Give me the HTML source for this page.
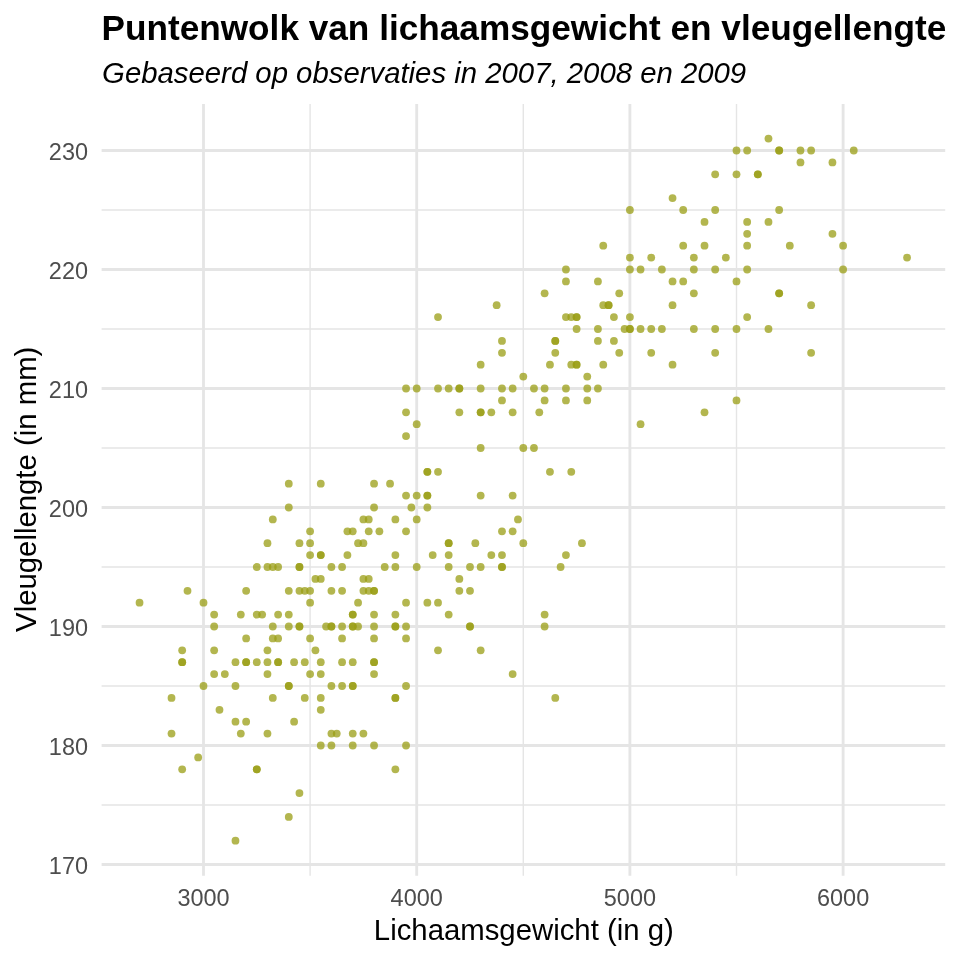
<!DOCTYPE html>
<html lang="nl"><head><meta charset="utf-8"><title>Puntenwolk</title>
<style>html,body{margin:0;padding:0;background:#fff}svg{display:block;will-change:transform}text{font-family:"Liberation Sans",Arial,Helvetica,sans-serif}</style></head><body>
<svg width="960" height="960" viewBox="0 0 960 960">
<rect width="960" height="960" fill="#fff"/>
<g stroke="#E5E5E5" stroke-width="1.42" fill="none">
<line x1="101.6" x2="945.20" y1="805.00" y2="805.00"/>
<line x1="101.6" x2="945.20" y1="686.00" y2="686.00"/>
<line x1="101.6" x2="945.20" y1="567.00" y2="567.00"/>
<line x1="101.6" x2="945.20" y1="448.00" y2="448.00"/>
<line x1="101.6" x2="945.20" y1="329.00" y2="329.00"/>
<line x1="101.6" x2="945.20" y1="210.00" y2="210.00"/>
<line y1="103.9" y2="875.8" x1="310.10" x2="310.10"/>
<line y1="103.9" y2="875.8" x1="523.30" x2="523.30"/>
<line y1="103.9" y2="875.8" x1="736.50" x2="736.50"/>
</g>
<g stroke="#E5E5E5" stroke-width="2.85" fill="none">
<line x1="101.6" x2="945.20" y1="864.50" y2="864.50"/>
<line x1="101.6" x2="945.20" y1="745.50" y2="745.50"/>
<line x1="101.6" x2="945.20" y1="626.50" y2="626.50"/>
<line x1="101.6" x2="945.20" y1="507.50" y2="507.50"/>
<line x1="101.6" x2="945.20" y1="388.50" y2="388.50"/>
<line x1="101.6" x2="945.20" y1="269.50" y2="269.50"/>
<line x1="101.6" x2="945.20" y1="150.50" y2="150.50"/>
<line y1="103.9" y2="875.8" x1="203.50" x2="203.50"/>
<line y1="103.9" y2="875.8" x1="416.70" x2="416.70"/>
<line y1="103.9" y2="875.8" x1="629.90" x2="629.90"/>
<line y1="103.9" y2="875.8" x1="843.10" x2="843.10"/>
</g>
<g fill="#999D14" fill-opacity="0.75">
<circle cx="235.48" cy="840.70" r="3.9"/>
<circle cx="288.78" cy="816.90" r="3.9"/>
<circle cx="299.44" cy="793.10" r="3.9"/>
<circle cx="182.18" cy="769.30" r="3.9"/>
<circle cx="256.80" cy="769.30" r="3.9"/>
<circle cx="256.80" cy="769.30" r="3.9"/>
<circle cx="395.38" cy="769.30" r="3.9"/>
<circle cx="198.17" cy="757.40" r="3.9"/>
<circle cx="320.76" cy="745.50" r="3.9"/>
<circle cx="331.42" cy="745.50" r="3.9"/>
<circle cx="352.74" cy="745.50" r="3.9"/>
<circle cx="374.06" cy="745.50" r="3.9"/>
<circle cx="406.04" cy="745.50" r="3.9"/>
<circle cx="171.52" cy="733.60" r="3.9"/>
<circle cx="240.81" cy="733.60" r="3.9"/>
<circle cx="267.46" cy="733.60" r="3.9"/>
<circle cx="331.42" cy="733.60" r="3.9"/>
<circle cx="336.75" cy="733.60" r="3.9"/>
<circle cx="352.74" cy="733.60" r="3.9"/>
<circle cx="363.40" cy="733.60" r="3.9"/>
<circle cx="235.48" cy="721.70" r="3.9"/>
<circle cx="246.14" cy="721.70" r="3.9"/>
<circle cx="294.11" cy="721.70" r="3.9"/>
<circle cx="219.49" cy="709.80" r="3.9"/>
<circle cx="320.76" cy="709.80" r="3.9"/>
<circle cx="171.52" cy="697.90" r="3.9"/>
<circle cx="272.79" cy="697.90" r="3.9"/>
<circle cx="304.77" cy="697.90" r="3.9"/>
<circle cx="320.76" cy="697.90" r="3.9"/>
<circle cx="395.38" cy="697.90" r="3.9"/>
<circle cx="395.38" cy="697.90" r="3.9"/>
<circle cx="555.28" cy="697.90" r="3.9"/>
<circle cx="203.50" cy="686.00" r="3.9"/>
<circle cx="235.48" cy="686.00" r="3.9"/>
<circle cx="288.78" cy="686.00" r="3.9"/>
<circle cx="288.78" cy="686.00" r="3.9"/>
<circle cx="331.42" cy="686.00" r="3.9"/>
<circle cx="342.08" cy="686.00" r="3.9"/>
<circle cx="352.74" cy="686.00" r="3.9"/>
<circle cx="352.74" cy="686.00" r="3.9"/>
<circle cx="406.04" cy="686.00" r="3.9"/>
<circle cx="214.16" cy="674.10" r="3.9"/>
<circle cx="224.82" cy="674.10" r="3.9"/>
<circle cx="267.46" cy="674.10" r="3.9"/>
<circle cx="310.10" cy="674.10" r="3.9"/>
<circle cx="320.76" cy="674.10" r="3.9"/>
<circle cx="374.06" cy="674.10" r="3.9"/>
<circle cx="512.64" cy="674.10" r="3.9"/>
<circle cx="182.18" cy="662.20" r="3.9"/>
<circle cx="182.18" cy="662.20" r="3.9"/>
<circle cx="235.48" cy="662.20" r="3.9"/>
<circle cx="246.14" cy="662.20" r="3.9"/>
<circle cx="246.14" cy="662.20" r="3.9"/>
<circle cx="256.80" cy="662.20" r="3.9"/>
<circle cx="267.46" cy="662.20" r="3.9"/>
<circle cx="278.12" cy="662.20" r="3.9"/>
<circle cx="278.12" cy="662.20" r="3.9"/>
<circle cx="294.11" cy="662.20" r="3.9"/>
<circle cx="304.77" cy="662.20" r="3.9"/>
<circle cx="320.76" cy="662.20" r="3.9"/>
<circle cx="342.08" cy="662.20" r="3.9"/>
<circle cx="352.74" cy="662.20" r="3.9"/>
<circle cx="374.06" cy="662.20" r="3.9"/>
<circle cx="374.06" cy="662.20" r="3.9"/>
<circle cx="182.18" cy="650.30" r="3.9"/>
<circle cx="214.16" cy="650.30" r="3.9"/>
<circle cx="267.46" cy="650.30" r="3.9"/>
<circle cx="315.43" cy="650.30" r="3.9"/>
<circle cx="438.02" cy="650.30" r="3.9"/>
<circle cx="480.66" cy="650.30" r="3.9"/>
<circle cx="246.14" cy="638.40" r="3.9"/>
<circle cx="272.79" cy="638.40" r="3.9"/>
<circle cx="278.12" cy="638.40" r="3.9"/>
<circle cx="310.10" cy="638.40" r="3.9"/>
<circle cx="342.08" cy="638.40" r="3.9"/>
<circle cx="374.06" cy="638.40" r="3.9"/>
<circle cx="406.04" cy="638.40" r="3.9"/>
<circle cx="214.16" cy="626.50" r="3.9"/>
<circle cx="272.79" cy="626.50" r="3.9"/>
<circle cx="288.78" cy="626.50" r="3.9"/>
<circle cx="299.44" cy="626.50" r="3.9"/>
<circle cx="299.44" cy="626.50" r="3.9"/>
<circle cx="326.09" cy="626.50" r="3.9"/>
<circle cx="331.42" cy="626.50" r="3.9"/>
<circle cx="331.42" cy="626.50" r="3.9"/>
<circle cx="342.08" cy="626.50" r="3.9"/>
<circle cx="352.74" cy="626.50" r="3.9"/>
<circle cx="352.74" cy="626.50" r="3.9"/>
<circle cx="358.07" cy="626.50" r="3.9"/>
<circle cx="374.06" cy="626.50" r="3.9"/>
<circle cx="395.38" cy="626.50" r="3.9"/>
<circle cx="395.38" cy="626.50" r="3.9"/>
<circle cx="406.04" cy="626.50" r="3.9"/>
<circle cx="470.00" cy="626.50" r="3.9"/>
<circle cx="470.00" cy="626.50" r="3.9"/>
<circle cx="544.62" cy="626.50" r="3.9"/>
<circle cx="214.16" cy="614.60" r="3.9"/>
<circle cx="240.81" cy="614.60" r="3.9"/>
<circle cx="256.80" cy="614.60" r="3.9"/>
<circle cx="262.13" cy="614.60" r="3.9"/>
<circle cx="278.12" cy="614.60" r="3.9"/>
<circle cx="288.78" cy="614.60" r="3.9"/>
<circle cx="352.74" cy="614.60" r="3.9"/>
<circle cx="352.74" cy="614.60" r="3.9"/>
<circle cx="374.06" cy="614.60" r="3.9"/>
<circle cx="395.38" cy="614.60" r="3.9"/>
<circle cx="448.68" cy="614.60" r="3.9"/>
<circle cx="544.62" cy="614.60" r="3.9"/>
<circle cx="139.54" cy="602.70" r="3.9"/>
<circle cx="203.50" cy="602.70" r="3.9"/>
<circle cx="310.10" cy="602.70" r="3.9"/>
<circle cx="358.07" cy="602.70" r="3.9"/>
<circle cx="406.04" cy="602.70" r="3.9"/>
<circle cx="427.36" cy="602.70" r="3.9"/>
<circle cx="438.02" cy="602.70" r="3.9"/>
<circle cx="187.51" cy="590.80" r="3.9"/>
<circle cx="246.14" cy="590.80" r="3.9"/>
<circle cx="288.78" cy="590.80" r="3.9"/>
<circle cx="299.44" cy="590.80" r="3.9"/>
<circle cx="304.77" cy="590.80" r="3.9"/>
<circle cx="310.10" cy="590.80" r="3.9"/>
<circle cx="331.42" cy="590.80" r="3.9"/>
<circle cx="342.08" cy="590.80" r="3.9"/>
<circle cx="363.40" cy="590.80" r="3.9"/>
<circle cx="368.73" cy="590.80" r="3.9"/>
<circle cx="374.06" cy="590.80" r="3.9"/>
<circle cx="374.06" cy="590.80" r="3.9"/>
<circle cx="459.34" cy="590.80" r="3.9"/>
<circle cx="470.00" cy="590.80" r="3.9"/>
<circle cx="315.43" cy="578.90" r="3.9"/>
<circle cx="320.76" cy="578.90" r="3.9"/>
<circle cx="363.40" cy="578.90" r="3.9"/>
<circle cx="368.73" cy="578.90" r="3.9"/>
<circle cx="459.34" cy="578.90" r="3.9"/>
<circle cx="256.80" cy="567.00" r="3.9"/>
<circle cx="267.46" cy="567.00" r="3.9"/>
<circle cx="272.79" cy="567.00" r="3.9"/>
<circle cx="278.12" cy="567.00" r="3.9"/>
<circle cx="299.44" cy="567.00" r="3.9"/>
<circle cx="299.44" cy="567.00" r="3.9"/>
<circle cx="331.42" cy="567.00" r="3.9"/>
<circle cx="342.08" cy="567.00" r="3.9"/>
<circle cx="384.72" cy="567.00" r="3.9"/>
<circle cx="395.38" cy="567.00" r="3.9"/>
<circle cx="416.70" cy="567.00" r="3.9"/>
<circle cx="448.68" cy="567.00" r="3.9"/>
<circle cx="470.00" cy="567.00" r="3.9"/>
<circle cx="480.66" cy="567.00" r="3.9"/>
<circle cx="501.98" cy="567.00" r="3.9"/>
<circle cx="501.98" cy="567.00" r="3.9"/>
<circle cx="560.61" cy="567.00" r="3.9"/>
<circle cx="310.10" cy="555.10" r="3.9"/>
<circle cx="320.76" cy="555.10" r="3.9"/>
<circle cx="320.76" cy="555.10" r="3.9"/>
<circle cx="347.41" cy="555.10" r="3.9"/>
<circle cx="395.38" cy="555.10" r="3.9"/>
<circle cx="432.69" cy="555.10" r="3.9"/>
<circle cx="448.68" cy="555.10" r="3.9"/>
<circle cx="491.32" cy="555.10" r="3.9"/>
<circle cx="501.98" cy="555.10" r="3.9"/>
<circle cx="565.94" cy="555.10" r="3.9"/>
<circle cx="267.46" cy="543.20" r="3.9"/>
<circle cx="299.44" cy="543.20" r="3.9"/>
<circle cx="310.10" cy="543.20" r="3.9"/>
<circle cx="358.07" cy="543.20" r="3.9"/>
<circle cx="363.40" cy="543.20" r="3.9"/>
<circle cx="448.68" cy="543.20" r="3.9"/>
<circle cx="448.68" cy="543.20" r="3.9"/>
<circle cx="475.33" cy="543.20" r="3.9"/>
<circle cx="523.30" cy="543.20" r="3.9"/>
<circle cx="581.93" cy="543.20" r="3.9"/>
<circle cx="310.10" cy="531.30" r="3.9"/>
<circle cx="347.41" cy="531.30" r="3.9"/>
<circle cx="352.74" cy="531.30" r="3.9"/>
<circle cx="368.73" cy="531.30" r="3.9"/>
<circle cx="379.39" cy="531.30" r="3.9"/>
<circle cx="406.04" cy="531.30" r="3.9"/>
<circle cx="501.98" cy="531.30" r="3.9"/>
<circle cx="512.64" cy="531.30" r="3.9"/>
<circle cx="272.79" cy="519.40" r="3.9"/>
<circle cx="363.40" cy="519.40" r="3.9"/>
<circle cx="368.73" cy="519.40" r="3.9"/>
<circle cx="395.38" cy="519.40" r="3.9"/>
<circle cx="416.70" cy="519.40" r="3.9"/>
<circle cx="517.97" cy="519.40" r="3.9"/>
<circle cx="288.78" cy="507.50" r="3.9"/>
<circle cx="374.06" cy="507.50" r="3.9"/>
<circle cx="411.37" cy="507.50" r="3.9"/>
<circle cx="427.36" cy="507.50" r="3.9"/>
<circle cx="406.04" cy="495.60" r="3.9"/>
<circle cx="416.70" cy="495.60" r="3.9"/>
<circle cx="427.36" cy="495.60" r="3.9"/>
<circle cx="427.36" cy="495.60" r="3.9"/>
<circle cx="480.66" cy="495.60" r="3.9"/>
<circle cx="512.64" cy="495.60" r="3.9"/>
<circle cx="288.78" cy="483.70" r="3.9"/>
<circle cx="320.76" cy="483.70" r="3.9"/>
<circle cx="374.06" cy="483.70" r="3.9"/>
<circle cx="390.05" cy="483.70" r="3.9"/>
<circle cx="427.36" cy="471.80" r="3.9"/>
<circle cx="427.36" cy="471.80" r="3.9"/>
<circle cx="438.02" cy="471.80" r="3.9"/>
<circle cx="549.95" cy="471.80" r="3.9"/>
<circle cx="571.27" cy="471.80" r="3.9"/>
<circle cx="480.66" cy="448.00" r="3.9"/>
<circle cx="523.30" cy="448.00" r="3.9"/>
<circle cx="533.96" cy="448.00" r="3.9"/>
<circle cx="406.04" cy="436.10" r="3.9"/>
<circle cx="416.70" cy="424.20" r="3.9"/>
<circle cx="640.56" cy="424.20" r="3.9"/>
<circle cx="406.04" cy="412.30" r="3.9"/>
<circle cx="459.34" cy="412.30" r="3.9"/>
<circle cx="480.66" cy="412.30" r="3.9"/>
<circle cx="480.66" cy="412.30" r="3.9"/>
<circle cx="491.32" cy="412.30" r="3.9"/>
<circle cx="512.64" cy="412.30" r="3.9"/>
<circle cx="539.29" cy="412.30" r="3.9"/>
<circle cx="704.52" cy="412.30" r="3.9"/>
<circle cx="501.98" cy="400.40" r="3.9"/>
<circle cx="544.62" cy="400.40" r="3.9"/>
<circle cx="565.94" cy="400.40" r="3.9"/>
<circle cx="587.26" cy="400.40" r="3.9"/>
<circle cx="736.50" cy="400.40" r="3.9"/>
<circle cx="406.04" cy="388.50" r="3.9"/>
<circle cx="416.70" cy="388.50" r="3.9"/>
<circle cx="438.02" cy="388.50" r="3.9"/>
<circle cx="448.68" cy="388.50" r="3.9"/>
<circle cx="459.34" cy="388.50" r="3.9"/>
<circle cx="459.34" cy="388.50" r="3.9"/>
<circle cx="480.66" cy="388.50" r="3.9"/>
<circle cx="501.98" cy="388.50" r="3.9"/>
<circle cx="512.64" cy="388.50" r="3.9"/>
<circle cx="533.96" cy="388.50" r="3.9"/>
<circle cx="544.62" cy="388.50" r="3.9"/>
<circle cx="565.94" cy="388.50" r="3.9"/>
<circle cx="587.26" cy="388.50" r="3.9"/>
<circle cx="597.92" cy="388.50" r="3.9"/>
<circle cx="523.30" cy="376.60" r="3.9"/>
<circle cx="587.26" cy="376.60" r="3.9"/>
<circle cx="480.66" cy="364.70" r="3.9"/>
<circle cx="549.95" cy="364.70" r="3.9"/>
<circle cx="571.27" cy="364.70" r="3.9"/>
<circle cx="576.60" cy="364.70" r="3.9"/>
<circle cx="576.60" cy="364.70" r="3.9"/>
<circle cx="603.25" cy="364.70" r="3.9"/>
<circle cx="672.54" cy="364.70" r="3.9"/>
<circle cx="501.98" cy="352.80" r="3.9"/>
<circle cx="555.28" cy="352.80" r="3.9"/>
<circle cx="619.24" cy="352.80" r="3.9"/>
<circle cx="651.22" cy="352.80" r="3.9"/>
<circle cx="715.18" cy="352.80" r="3.9"/>
<circle cx="811.12" cy="352.80" r="3.9"/>
<circle cx="501.98" cy="340.90" r="3.9"/>
<circle cx="555.28" cy="340.90" r="3.9"/>
<circle cx="555.28" cy="340.90" r="3.9"/>
<circle cx="597.92" cy="340.90" r="3.9"/>
<circle cx="613.91" cy="340.90" r="3.9"/>
<circle cx="576.60" cy="329.00" r="3.9"/>
<circle cx="597.92" cy="329.00" r="3.9"/>
<circle cx="624.57" cy="329.00" r="3.9"/>
<circle cx="629.90" cy="329.00" r="3.9"/>
<circle cx="629.90" cy="329.00" r="3.9"/>
<circle cx="640.56" cy="329.00" r="3.9"/>
<circle cx="651.22" cy="329.00" r="3.9"/>
<circle cx="661.88" cy="329.00" r="3.9"/>
<circle cx="693.86" cy="329.00" r="3.9"/>
<circle cx="715.18" cy="329.00" r="3.9"/>
<circle cx="736.50" cy="329.00" r="3.9"/>
<circle cx="768.48" cy="329.00" r="3.9"/>
<circle cx="438.02" cy="317.10" r="3.9"/>
<circle cx="565.94" cy="317.10" r="3.9"/>
<circle cx="571.27" cy="317.10" r="3.9"/>
<circle cx="576.60" cy="317.10" r="3.9"/>
<circle cx="576.60" cy="317.10" r="3.9"/>
<circle cx="613.91" cy="317.10" r="3.9"/>
<circle cx="629.90" cy="317.10" r="3.9"/>
<circle cx="747.16" cy="317.10" r="3.9"/>
<circle cx="496.65" cy="305.20" r="3.9"/>
<circle cx="603.25" cy="305.20" r="3.9"/>
<circle cx="608.58" cy="305.20" r="3.9"/>
<circle cx="608.58" cy="305.20" r="3.9"/>
<circle cx="672.54" cy="305.20" r="3.9"/>
<circle cx="811.12" cy="305.20" r="3.9"/>
<circle cx="544.62" cy="293.30" r="3.9"/>
<circle cx="619.24" cy="293.30" r="3.9"/>
<circle cx="693.86" cy="293.30" r="3.9"/>
<circle cx="779.14" cy="293.30" r="3.9"/>
<circle cx="779.14" cy="293.30" r="3.9"/>
<circle cx="565.94" cy="281.40" r="3.9"/>
<circle cx="597.92" cy="281.40" r="3.9"/>
<circle cx="672.54" cy="281.40" r="3.9"/>
<circle cx="683.20" cy="281.40" r="3.9"/>
<circle cx="736.50" cy="281.40" r="3.9"/>
<circle cx="565.94" cy="269.50" r="3.9"/>
<circle cx="629.90" cy="269.50" r="3.9"/>
<circle cx="640.56" cy="269.50" r="3.9"/>
<circle cx="661.88" cy="269.50" r="3.9"/>
<circle cx="693.86" cy="269.50" r="3.9"/>
<circle cx="715.18" cy="269.50" r="3.9"/>
<circle cx="747.16" cy="269.50" r="3.9"/>
<circle cx="843.10" cy="269.50" r="3.9"/>
<circle cx="629.90" cy="257.60" r="3.9"/>
<circle cx="651.22" cy="257.60" r="3.9"/>
<circle cx="693.86" cy="257.60" r="3.9"/>
<circle cx="725.84" cy="257.60" r="3.9"/>
<circle cx="907.06" cy="257.60" r="3.9"/>
<circle cx="603.25" cy="245.70" r="3.9"/>
<circle cx="683.20" cy="245.70" r="3.9"/>
<circle cx="704.52" cy="245.70" r="3.9"/>
<circle cx="747.16" cy="245.70" r="3.9"/>
<circle cx="789.80" cy="245.70" r="3.9"/>
<circle cx="843.10" cy="245.70" r="3.9"/>
<circle cx="747.16" cy="233.80" r="3.9"/>
<circle cx="832.44" cy="233.80" r="3.9"/>
<circle cx="704.52" cy="221.90" r="3.9"/>
<circle cx="747.16" cy="221.90" r="3.9"/>
<circle cx="768.48" cy="221.90" r="3.9"/>
<circle cx="629.90" cy="210.00" r="3.9"/>
<circle cx="683.20" cy="210.00" r="3.9"/>
<circle cx="715.18" cy="210.00" r="3.9"/>
<circle cx="779.14" cy="210.00" r="3.9"/>
<circle cx="672.54" cy="198.10" r="3.9"/>
<circle cx="715.18" cy="174.30" r="3.9"/>
<circle cx="736.50" cy="174.30" r="3.9"/>
<circle cx="757.82" cy="174.30" r="3.9"/>
<circle cx="757.82" cy="174.30" r="3.9"/>
<circle cx="800.46" cy="162.40" r="3.9"/>
<circle cx="832.44" cy="162.40" r="3.9"/>
<circle cx="736.50" cy="150.50" r="3.9"/>
<circle cx="747.16" cy="150.50" r="3.9"/>
<circle cx="779.14" cy="150.50" r="3.9"/>
<circle cx="779.14" cy="150.50" r="3.9"/>
<circle cx="800.46" cy="150.50" r="3.9"/>
<circle cx="811.12" cy="150.50" r="3.9"/>
<circle cx="853.76" cy="150.50" r="3.9"/>
<circle cx="768.48" cy="138.60" r="3.9"/>
</g>
<g font-size="23.47" fill="#4D4D4D">
<text x="88" y="873.80" text-anchor="end">170</text>
<text x="88" y="754.80" text-anchor="end">180</text>
<text x="88" y="635.80" text-anchor="end">190</text>
<text x="88" y="516.80" text-anchor="end">200</text>
<text x="88" y="397.80" text-anchor="end">210</text>
<text x="88" y="278.80" text-anchor="end">220</text>
<text x="88" y="159.80" text-anchor="end">230</text>
<text x="203.50" y="906" text-anchor="middle">3000</text>
<text x="416.70" y="906" text-anchor="middle">4000</text>
<text x="629.90" y="906" text-anchor="middle">5000</text>
<text x="843.10" y="906" text-anchor="middle">6000</text>
</g>
<text x="523.8" y="940.1" font-size="29.33" text-anchor="middle" fill="#000">Lichaamsgewicht (in g)</text>
<text transform="translate(35.8,489.3) rotate(-90)" font-size="29.33" text-anchor="middle" fill="#000">Vleugellengte (in mm)</text>
<text x="101.5" y="39.8" font-size="35.2" font-weight="bold" fill="#000">Puntenwolk van lichaamsgewicht en vleugellengte</text>
<text x="102.1" y="83.0" font-size="29.33" font-style="italic" fill="#000">Gebaseerd op observaties in 2007, 2008 en 2009</text>
</svg></body></html>
